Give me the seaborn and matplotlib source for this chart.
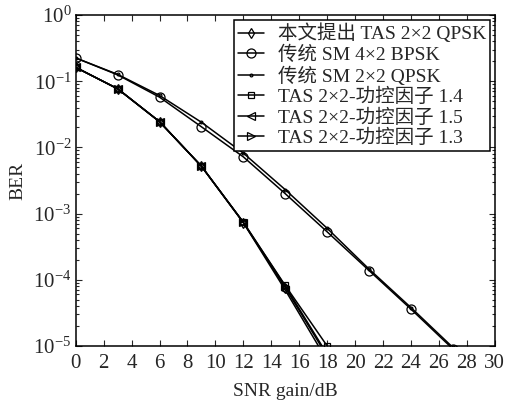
import numpy as np
import pandas as pd
import matplotlib
matplotlib.use("Agg")
import matplotlib.pyplot as plt
import seaborn as sns
from matplotlib.ticker import LogLocator, NullFormatter

# data
snr_tas = [0, 3, 6, 9, 12, 15, 18]
snr_sm = [0, 3, 6, 9, 12, 15, 18, 21, 24, 27]

ber_proposed = [0.162, 0.077, 0.0245, 0.0052, 7.3e-4, 7.6e-5, 7.0e-6]
ber_sm_4x2_bpsk = [0.225, 0.125, 0.0575, 0.0205, 0.0072, 0.0020, 5.3e-4, 1.38e-4, 3.6e-5, 9.0e-6]
ber_sm_2x2_qpsk = [0.225, 0.127, 0.0610, 0.0240, 0.0082, 0.0023, 6.0e-4, 1.45e-4, 3.8e-5, 9.5e-6]
ber_tas_14 = [0.162, 0.077, 0.0245, 0.0052, 7.4e-4, 8.2e-5, 1.0e-5]
ber_tas_15 = [0.162, 0.077, 0.0245, 0.0052, 7.3e-4, 7.0e-5, 6.0e-6]
ber_tas_13 = [0.162, 0.077, 0.0245, 0.0052, 7.4e-4, 8.0e-5, 7.5e-6]

labels = ["本文提出 TAS 2×2 QPSK", "传统 SM 4×2 BPSK", "传统 SM 2×2 QPSK",
          "TAS 2×2-功控因子 1.4", "TAS 2×2-功控因子 1.5", "TAS 2×2-功控因子 1.3"]

sns.set_style("ticks")
plt.rcParams['font.family'] = ['Liberation Serif', 'Noto Sans CJK SC']
plt.rcParams['mathtext.fontset'] = 'stix'
plt.rcParams['xtick.direction'] = 'in'
plt.rcParams['ytick.direction'] = 'in'

fig, ax = plt.subplots(figsize=(5.08, 4.07), dpi=100)
fig.subplots_adjust(left=0.149, right=0.974, top=0.963, bottom=0.15)

series = [
    (snr_tas, ber_proposed, 'd', 5),
    (snr_sm, ber_sm_4x2_bpsk, 'o', 6.5),
    (snr_sm, ber_sm_2x2_qpsk, '.', 4),
    (snr_tas, ber_tas_14, 's', 5),
    (snr_tas, ber_tas_15, '<', 5.5),
    (snr_tas, ber_tas_13, '>', 5.5),
]
for (x, y, m, ms), lab in zip(series, labels):
    df = pd.DataFrame({'snr': x, 'ber': y})
    sns.lineplot(data=df, x='snr', y='ber', ax=ax, color='black', lw=1.1,
                 marker=m, markersize=ms, markerfacecolor='none',
                 markeredgecolor='black', markeredgewidth=0.9, label=lab)

ax.set_yscale('log')
ax.set_xlim(0, 30)
ax.set_ylim(1e-5, 1)
ax.set_xticks(np.arange(0, 31, 2))
ax.yaxis.set_major_locator(LogLocator(base=10, numticks=10))
ax.yaxis.set_minor_locator(LogLocator(base=10, subs=np.arange(2, 10), numticks=10))
ax.yaxis.set_minor_formatter(NullFormatter())
ax.tick_params(which='both', top=True, right=True, labelsize=15, length=4, width=0.8)
ax.tick_params(axis='x', pad=6)
ax.tick_params(axis='y', pad=3)
ax.tick_params(which='minor', length=2)
ax.set_xlabel('SNR gain/dB', fontsize=14, labelpad=7)
ax.set_ylabel('BER', fontsize=14, labelpad=5)
for s in ax.spines.values():
    s.set_linewidth(1.1)
    s.set_color('black')

leg = ax.legend(loc='upper right', fontsize=14, frameon=True, fancybox=False,
                edgecolor='black', framealpha=1, handlelength=1.35,
                labelspacing=0.12, borderpad=0.2, handletextpad=0.7,
                borderaxespad=0.25)
leg.get_frame().set_linewidth(1.1)

fig.savefig('out.png', dpi=100)
